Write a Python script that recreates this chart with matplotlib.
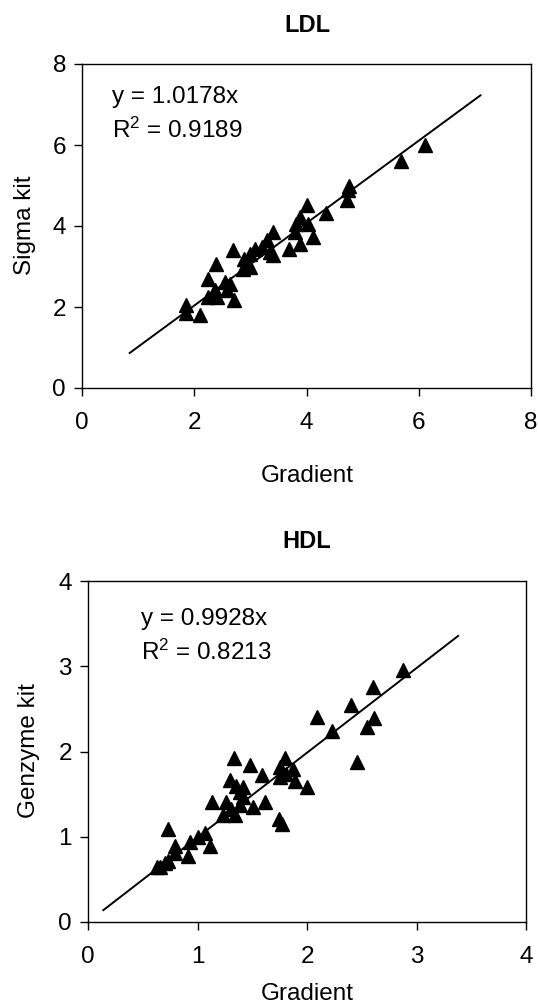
import matplotlib
matplotlib.use("Agg")
import matplotlib.pyplot as plt
import numpy as np

plt.rcParams['font.family'] = ['Liberation Sans', 'DejaVu Sans']
plt.rcParams['mathtext.fontset'] = 'custom'
plt.rcParams['mathtext.rm'] = 'Liberation Sans'
plt.rcParams['mathtext.it'] = 'Liberation Sans:italic'

# LDL data (Gradient vs Sigma kit)
ldl_x = [6.11, 5.68, 4.75, 4.74, 4.72, 4.35, 4.00, 3.88, 3.82, 4.03, 4.12, 3.88, 3.80, 3.68,
         3.41, 3.29, 3.41, 3.35, 3.20, 3.08, 3.00, 2.88, 3.00, 2.86, 2.69, 2.39, 2.25, 2.55,
         2.64, 2.58, 2.37, 2.34, 2.25, 2.40, 2.70, 1.86, 1.86, 2.10]
ldl_y = [5.99, 5.60, 4.98, 4.88, 4.63, 4.31, 4.51, 4.22, 4.05, 4.05, 3.73, 3.56, 3.85, 3.44,
         3.85, 3.65, 3.28, 3.35, 3.47, 3.44, 3.32, 3.19, 2.99, 2.95, 3.40, 3.07, 2.70, 2.62,
         2.58, 2.41, 2.41, 2.33, 2.25, 2.25, 2.18, 2.04, 1.85, 1.80]
ldl_slope = 1.0178
ldl_line_x = [0.85, 7.1]

# HDL data (Gradient vs Genzyme kit)
hdl_x = [2.88, 2.60, 2.40, 2.09, 2.61, 2.55, 2.23, 2.46, 1.33, 1.48, 1.80, 1.75, 1.87, 1.59,
         1.75, 1.81, 1.89, 2.00, 1.30, 1.35, 1.42, 1.39, 1.42, 1.13, 1.26, 1.62, 1.51, 1.39,
         1.31, 1.23, 1.34, 1.74, 1.77, 0.73, 1.07, 1.00, 0.93, 1.11, 0.79, 0.79, 0.91, 0.73,
         0.70, 0.66, 0.63]
hdl_y = [2.96, 2.76, 2.54, 2.40, 2.39, 2.29, 2.24, 1.88, 1.92, 1.84, 1.92, 1.82, 1.80, 1.72,
         1.70, 1.74, 1.65, 1.58, 1.67, 1.60, 1.58, 1.52, 1.47, 1.41, 1.41, 1.41, 1.35, 1.37,
         1.33, 1.25, 1.25, 1.21, 1.15, 1.09, 1.04, 1.00, 0.94, 0.89, 0.89, 0.81, 0.77, 0.72,
         0.69, 0.65, 0.65]
hdl_slope = 0.9928
hdl_line_x = [0.14, 3.38]

W, H = 538, 1006
fig = plt.figure(figsize=(W / 100, H / 100), dpi=100)

def px_axes(l, t, r, b):
    return fig.add_axes([l / W, 1 - b / H, (r - l) / W, (b - t) / H])

def ftext(x, y, s, **kw):
    fig.text(x / W, 1 - y / H, s, **kw)

FS = 17.5
TFS = 17

def style(ax, lim, ticks):
    ax.set_xlim(0, lim)
    ax.set_ylim(0, lim)
    ax.set_xticks(ticks)
    ax.set_yticks(ticks)
    ax.tick_params(direction='out', length=5.5, width=1, labelsize=FS, color='black')
    ax.tick_params(axis='x', pad=12)
    ax.tick_params(axis='y', pad=6)
    for s in ax.spines.values():
        s.set_linewidth(1.0)
        s.set_color('black')

# LDL
ax1 = px_axes(82, 64, 531, 388)
ax1.plot(ldl_x, ldl_y, linestyle='none', marker='^', ms=9.5, color='black')
lx = np.array(ldl_line_x)
ax1.plot(lx, ldl_slope * lx, color='black', lw=1.4)
style(ax1, 8, [0, 2, 4, 6, 8])
ftext(112, 103, "y = 1.0178x", fontsize=FS, va='baseline', ha='left')
ftext(112, 138, "R$^{2}$ = 0.9189", fontsize=FS, va='baseline', ha='left')
ftext(307, 25.5, "LDL", fontsize=TFS, fontweight='bold', ha='center', va='center')
ftext(307, 476, "Gradient", fontsize=FS, ha='center', va='center')
ftext(25, 225, "Sigma kit", fontsize=FS, ha='center', va='center', rotation=90)

# HDL
ax2 = px_axes(88, 581, 526, 922)
ax2.plot(hdl_x, hdl_y, linestyle='none', marker='^', ms=9.5, color='black')
hx = np.array(hdl_line_x)
ax2.plot(hx, hdl_slope * hx, color='black', lw=1.4)
style(ax2, 4, [0, 1, 2, 3, 4])
ftext(141, 625, "y = 0.9928x", fontsize=FS, va='baseline', ha='left')
ftext(141, 660, "R$^{2}$ = 0.8213", fontsize=FS, va='baseline', ha='left')
ftext(307, 542, "HDL", fontsize=TFS, fontweight='bold', ha='center', va='center')
ftext(307, 994, "Gradient", fontsize=FS, ha='center', va='center')
ftext(29, 751, "Genzyme kit", fontsize=FS, ha='center', va='center', rotation=90)

fig.savefig("out.png", dpi=100)
